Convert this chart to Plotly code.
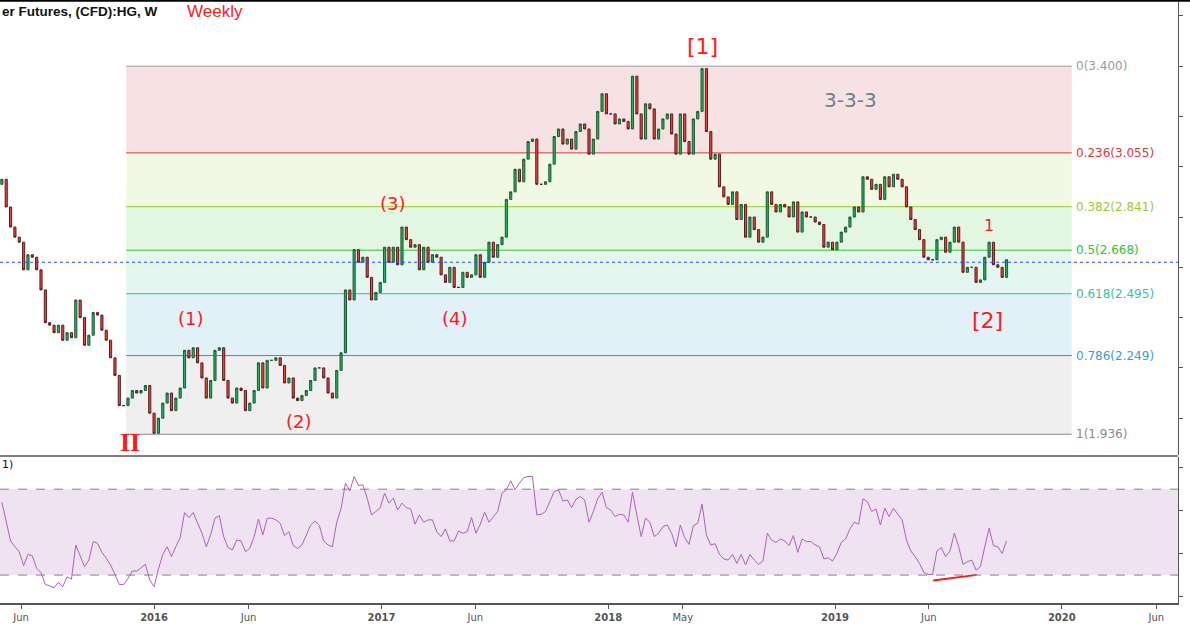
import pandas as pd
import plotly.graph_objects as go

# weekly closes (CFD copper, HG)
closes = [
    2.95, 2.84, 2.76, 2.72, 2.70, 2.59, 2.65, 2.64, 2.59, 2.51,
    2.38, 2.37, 2.34, 2.37, 2.31, 2.34, 2.32, 2.47, 2.40, 2.29,
    2.33, 2.42, 2.41, 2.35, 2.31, 2.24, 2.17, 2.05, 2.05, 2.08,
    2.11, 2.10, 2.11, 2.13, 2.02, 1.94, 2.00, 2.06, 2.10, 2.03,
    2.08, 2.12, 2.27, 2.24, 2.28, 2.22, 2.16, 2.08, 2.15, 2.27,
    2.28, 2.15, 2.08, 2.06, 2.12, 2.11, 2.03, 2.06, 2.11, 2.22,
    2.12, 2.23, 2.23, 2.24, 2.21, 2.14, 2.16, 2.08, 2.07, 2.09,
    2.11, 2.15, 2.20, 2.20, 2.16, 2.10, 2.08, 2.19, 2.26, 2.51,
    2.47, 2.67, 2.62, 2.64, 2.56, 2.47, 2.50, 2.54, 2.68, 2.62,
    2.68, 2.61,
    2.76, 2.71, 2.68, 2.69, 2.59, 2.68, 2.62, 2.65, 2.64, 2.57,
    2.54, 2.60, 2.52, 2.52, 2.58, 2.56, 2.57, 2.65, 2.56, 2.62,
    2.70, 2.64, 2.69, 2.72, 2.87, 2.90, 2.99, 2.94, 3.03, 3.10,
    3.11, 2.93, 2.93, 2.94, 3.01, 3.12, 3.15, 3.09, 3.11, 3.07,
    3.14, 3.17, 3.15, 3.05, 3.11, 3.22, 3.29, 3.21, 3.21, 3.17,
    3.19, 3.18, 3.15, 3.36, 3.21, 3.11, 3.25, 3.23, 3.11, 3.15,
    3.19, 3.21, 3.13, 3.05, 3.21, 3.10, 3.05, 3.19, 3.22, 3.39,
    3.14, 3.03, 3.05, 2.92, 2.88, 2.85,
    2.90, 2.79, 2.85, 2.72, 2.80, 2.75, 2.70, 2.72, 2.90, 2.85,
    2.82, 2.85, 2.84, 2.80, 2.86, 2.74, 2.82, 2.80, 2.80, 2.78,
    2.77, 2.68, 2.70, 2.67, 2.70, 2.74, 2.76, 2.80, 2.84, 2.82,
    2.96, 2.95, 2.91, 2.93, 2.87, 2.96, 2.92, 2.97, 2.95, 2.92,
    2.84, 2.79, 2.75, 2.71, 2.64, 2.63, 2.63, 2.71, 2.72, 2.66,
    2.70, 2.76, 2.70, 2.58, 2.60, 2.60, 2.54, 2.55, 2.64, 2.70,
    2.61, 2.60, 2.56, 2.63,
]
first_open = 2.93

# RSI(14) line
rsi = [
    63.9, 54.1, 45.9, 43.2, 40.9, 34.4, 39.6, 39.0, 33.1, 31.2,
    25.6, 25.0, 24.1, 26.6, 24.6, 29.2, 28.1, 44.0, 39.0, 33.9,
    37.0, 45.6, 44.8, 40.6, 37.8, 34.7, 30.3, 25.6, 25.6, 28.4,
    31.9, 31.9, 33.4, 35.0, 27.7, 24.6, 32.8, 39.6, 43.2, 38.6,
    43.2, 47.4, 59.1, 56.8, 59.1, 54.1, 49.5, 43.2, 48.7, 56.5,
    57.7, 47.9, 42.8, 41.7, 46.3, 45.9, 40.9, 42.4, 47.9, 56.1,
    48.7, 56.5, 56.5, 55.7, 54.1, 48.4, 50.2, 43.7, 42.4, 44.0,
    48.7, 53.3, 55.2, 53.0, 45.9, 44.0, 43.2, 54.6, 61.1, 72.8,
    69.2, 75.9, 71.7, 72.0, 65.8, 58.0, 59.6, 61.4, 68.1, 63.5,
    65.8, 60.3,
    63.5, 61.4, 60.8, 53.7, 58.0, 54.6, 55.7, 55.7, 50.2, 47.9,
    51.5, 45.9, 45.9, 50.5, 49.5, 50.2, 56.8, 49.5, 53.7, 59.3,
    54.6, 57.2, 59.6, 68.1, 69.7, 73.9, 69.7, 72.8, 75.4, 75.9,
    75.9, 58.0, 58.3, 59.6, 63.9, 68.9, 69.7, 64.5, 65.0, 61.4,
    65.3, 66.6, 65.0, 54.6, 59.6, 65.5, 68.6, 61.4, 60.3, 57.2,
    58.3, 58.0, 54.6, 68.6, 58.0, 47.9, 56.5, 54.6, 47.9, 49.5,
    52.6, 53.3, 49.5, 43.2, 53.3, 47.4, 44.3, 53.0, 54.1, 63.0,
    48.7, 44.0, 44.6, 39.6, 37.5, 37.0, 39.6, 35.4, 39.6, 34.7,
    39.6, 37.0, 35.0, 36.5, 49.5, 46.3, 45.2, 46.8, 45.9, 43.7,
    48.4,
    40.6, 46.8, 45.6, 45.6, 44.0, 43.2, 37.5, 38.1, 36.5, 40.1,
    45.2, 46.8, 51.5, 54.6, 53.7, 65.5, 64.2, 59.6, 60.8, 53.3,
    61.1, 57.2, 61.1, 58.3, 55.7, 46.3, 41.2, 38.6, 35.4, 31.2,
    30.3, 30.3, 41.2, 42.8, 38.6, 41.2, 49.5, 43.2, 35.0, 36.2,
    37.0, 32.3, 33.9, 43.2, 51.8, 43.7, 43.2, 40.1, 45.9,
]

fib_levels = [0, 0.236, 0.382, 0.5, 0.618, 0.786, 1]
fib_prices = [3.400, 3.055, 2.841, 2.668, 2.495, 2.249, 1.936]
fib_lines = ["#9a9a9a", "#d83a3a", "#9acd32", "#33c233", "#3cbf98", "#3a8cc8", "#8a8a8a"]
fib_fills = ["#f6e2e2", "#f1f8e4", "#e2f6e2", "#e3f6ef", "#e2f0f8", "#efefef"]
fib_text = ["#9a9a9a", "#d83a3a", "#9acd32", "#33c233", "#3cbf98", "#3a9cd0", "#8a8a8a"]

dates = pd.date_range("2015-05-01", periods=len(closes), freq="W-FRI")
opens = [first_open] + closes[:-1]
highs = [max(o, c) for o, c in zip(opens, closes)]
lows = [min(o, c) for o, c in zip(opens, closes)]

fig = go.Figure()
fig.add_trace(go.Candlestick(
    x=dates, open=opens, high=highs, low=lows, close=closes,
    increasing=dict(line=dict(color="#1d5a33", width=1), fillcolor="#22b35e"),
    decreasing=dict(line=dict(color="#5e1c1c", width=1), fillcolor="#e8473d"),
    whiskerwidth=0, showlegend=False, yaxis="y"))
fig.add_trace(go.Scatter(
    x=dates[:len(rsi)], y=rsi, mode="lines",
    line=dict(color="#b35cc4", width=1), showlegend=False, yaxis="y2"))
# bullish divergence
fig.add_trace(go.Scatter(
    x=["2019-06-08", "2019-08-17"], y=[27.5, 30.1], mode="lines",
    line=dict(color="#ff1a1a", width=2), showlegend=False, yaxis="y2"))

fib_x0, fib_x1 = "2015-11-17", "2020-01-17"
shapes = []
for i in range(len(fib_fills)):
    shapes.append(dict(type="rect", xref="x", yref="y", x0=fib_x0, x1=fib_x1,
                       y0=fib_prices[i + 1], y1=fib_prices[i],
                       fillcolor=fib_fills[i], line_width=0, layer="below"))
annotations = []
for lv, p, lc, tc in zip(fib_levels, fib_prices, fib_lines, fib_text):
    shapes.append(dict(type="line", xref="x", yref="y", x0=fib_x0, x1=fib_x1,
                       y0=p, y1=p, line=dict(color=lc, width=1), layer="below"))
    annotations.append(dict(x="2020-01-20", y=p, xref="x", yref="y", text=f"{lv:g}({p:.3f})",
                            showarrow=False, xanchor="left", font=dict(size=12, color=tc)))

# RSI band and bounds
shapes.append(dict(type="rect", xref="paper", yref="y2", x0=0, x1=1, y0=30, y1=70,
                   fillcolor="#f0e3f1", line_width=0, layer="below"))
for v in (30, 70):
    shapes.append(dict(type="line", xref="paper", yref="y2", x0=0, x1=1, y0=v, y1=v,
                       line=dict(color="#8a7a8a", width=1, dash="dash")))
# last price line
shapes.append(dict(type="line", xref="paper", yref="y", x0=0, x1=1, y0=2.62, y1=2.62,
                   line=dict(color="#2a4cff", width=1, dash="dot")))
# pane separators and frame
shapes.append(dict(type="line", xref="paper", yref="paper", x0=0, x1=1, y0=0.2446, y1=0.2446,
                   line=dict(color="#555", width=1.5)))
shapes.append(dict(type="line", xref="paper", yref="paper", x0=0, x1=1.02, y0=1.003, y1=1.003,
                   line=dict(color="#000", width=3)))

red = "#ff1a1a"
wave_labels = [
    ("[1]", "2018-06-01", 3.48, 22), ("(3)", "2017-01-20", 2.855, 18),
    ("(1)", "2016-02-29", 2.398, 18), ("(4)", "2017-04-30", 2.398, 18),
    ("(2)", "2016-08-22", 1.988, 18), ("1", "2019-09-06", 2.768, 16),
    ("[2]", "2019-09-04", 2.39, 22),
]
for t, x, y, s in wave_labels:
    annotations.append(dict(x=x, y=y, xref="x", yref="y", text=t, showarrow=False,
                            font=dict(size=s, color=red)))
annotations.append(dict(x="2015-11-24", y=1.905, xref="x", yref="y", text="<b>II</b>",
                        showarrow=False, font=dict(size=26, color=red, family="Liberation Serif")))
annotations.append(dict(x="2019-01-26", y=3.265, xref="x", yref="y", text="3-3-3",
                        showarrow=False, font=dict(size=20, color="#6e7f90")))
annotations.append(dict(x=0, y=1.0, xref="paper", yref="paper", xanchor="left", yanchor="top",
                        text="<b>er Futures, (CFD):HG, W</b>", showarrow=False,
                        font=dict(size=13.5, color="#111", family="Liberation Sans")))
annotations.append(dict(x=0.157, y=1.003, xref="paper", yref="paper", yanchor="top",
                        text="Weekly", showarrow=False,
                        font=dict(size=17, color=red, family="Liberation Sans")))
annotations.append(dict(x=0, y=0.217, xref="paper", yref="paper", xanchor="left",
                        text="1)", showarrow=False, font=dict(size=11, color="#111")))

tick_vals = ["2015-06-01", "2016-01-01", "2016-06-01", "2017-01-01", "2017-06-01", "2018-01-01",
             "2018-05-01", "2019-01-01", "2019-06-01", "2020-01-01", "2020-06-01"]
tick_text = ["Jun", "<b>2016</b>", "Jun", "<b>2017</b>", "Jun", "<b>2018</b>",
             "May", "<b>2019</b>", "Jun", "<b>2020</b>", "Jun"]

fig.update_layout(
    width=1190, height=625,
    margin=dict(l=0, r=12, t=2, b=22),
    plot_bgcolor="white", paper_bgcolor="white",
    font=dict(family="DejaVu Sans", color="#333"),
    shapes=shapes, annotations=annotations,
    xaxis=dict(range=["2015-04-28", "2020-07-06"], rangeslider=dict(visible=False),
               tickvals=tick_vals, ticktext=tick_text, tickfont=dict(size=10, color="#555"),
               showgrid=False, showline=True, linecolor="#555", linewidth=1.5,
               ticks="outside", ticklen=4, tickcolor="#555", anchor="y2", zeroline=False),
    yaxis=dict(domain=[0.246, 1], range=[1.853, 3.655], side="right", showgrid=False,
               showticklabels=False, showline=True, linecolor="#555", ticks="outside",
               ticklen=4, tickcolor="#555", zeroline=False),
    yaxis2=dict(domain=[0, 0.243], range=[17, 85], side="right", showgrid=False,
                showticklabels=False, showline=True, linecolor="#555", ticks="outside",
                ticklen=4, tickcolor="#555", zeroline=False),
)

# drop the page's default body margin so the chart fills the window
fig.write_html("out.html", config={"displayModeBar": False},
               post_script="document.body.style.margin='0';document.body.style.overflow='hidden';")
